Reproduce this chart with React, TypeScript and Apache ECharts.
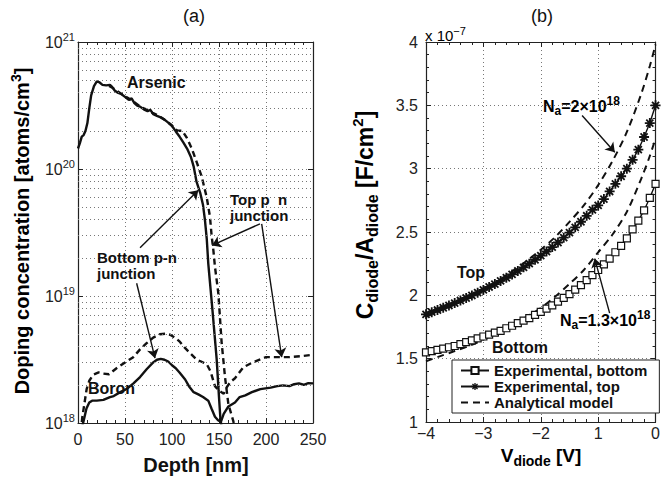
import React, { useEffect, useRef } from 'react';
import * as echarts from 'echarts';

const FONT = '"Liberation Sans", Arial, Helvetica, sans-serif';
const INK = '#111';

// ---------- Panel (a): depth [nm] vs doping concentration [atoms/cm^3] ----------
const arsenicSolid: [number, number][] = [
  [0, 1.45e20], [2, 1.6e20], [4, 1.8e20], [6, 1.85e20], [8, 2.0e20], [10, 2.3e20], [12, 3.0e20],
  [14, 3.8e20], [17, 4.5e20], [20, 4.9e20], [23, 4.8e20], [26, 4.6e20], [30, 4.55e20], [34, 4.6e20],
  [36, 4.45e20], [39, 4.15e20], [42, 4.0e20], [46, 3.9e20], [50, 3.7e20], [54, 3.5e20], [57, 3.6e20],
  [60, 3.3e20], [63, 3.15e20], [66, 3.1e20], [70, 2.95e20], [74, 2.85e20], [77, 2.92e20], [80, 2.7e20],
  [84, 2.62e20], [88, 2.55e20], [92, 2.45e20], [96, 2.32e20], [99, 2.22e20], [102, 2.08e20],
  [105, 1.93e20], [108, 1.8e20], [112, 1.62e20], [116, 1.45e20], [120, 1.25e20], [123, 1.05e20],
  [126, 8.0e19], [130, 6.5e19], [133, 5.2e19], [135, 4.0e19], [137, 2.8e19], [138.6, 1.8e19],
  [143, 7.8e18], [147.5, 3.2e18], [150, 1.6e18], [151.5, 1.08e18], [153, 0.9e18],
];
const arsenicDashed: [number, number][] = [
  [33, 4.5e20], [37, 4.35e20], [41, 4.15e20], [45, 3.95e20], [50, 3.75e20], [55, 3.55e20],
  [60, 3.35e20], [65, 3.15e20], [70, 3.0e20], [75, 2.9e20], [80, 2.75e20], [85, 2.65e20],
  [90, 2.5e20], [95, 2.35e20], [100, 2.2e20], [104, 2.05e20], [106, 2.0e20], [111, 2.0e20],
  [116, 1.75e20], [121, 1.45e20], [126, 1.15e20], [131.6, 8.7e19], [136.9, 6.0e19], [140.4, 4.2e19],
  [142.2, 2.95e19], [144, 2.3e19], [145.7, 1.7e19], [149.3, 1.05e19], [152.8, 4.3e18],
  [156.4, 2.3e18], [160, 1.4e18], [165, 1.05e18], [167, 0.9e18],
];
const boronSolid: [number, number][] = [
  [3, 0.85e18], [5.7, 1.02e18], [9, 1.3e18], [12, 1.45e18], [15, 1.5e18], [20, 1.5e18], [27, 1.52e18],
  [34, 1.6e18], [38, 1.63e18], [45, 1.75e18], [52, 1.86e18], [59, 2.05e18], [66, 2.3e18],
  [73, 2.65e18], [80, 3.0e18], [84, 3.15e18], [88, 3.2e18], [92, 3.15e18], [96, 3.05e18],
  [100, 2.85e18], [104, 2.7e18], [108, 2.5e18], [114, 2.2e18], [118, 1.95e18], [123, 1.75e18],
  [128, 1.68e18], [133, 1.6e18], [138.6, 1.5e18], [142, 1.3e18], [145.7, 1.12e18], [149, 1.05e18],
  [152, 1.02e18], [155, 1.18e18], [160, 1.35e18], [167, 1.45e18], [172, 1.6e18], [178, 1.65e18],
  [185, 1.75e18], [194, 1.85e18], [205, 1.9e18], [212, 1.95e18], [218, 1.98e18], [225, 1.95e18],
  [230, 2.02e18], [235, 2.05e18], [240, 2.0e18], [245, 2.06e18], [250, 2.05e18],
];
const boronDashed: [number, number][] = [
  [3, 0.85e18], [4.5, 1.1e18], [7, 1.45e18], [9.2, 1.85e18], [12, 2.15e18], [16.3, 2.4e18],
  [22, 2.5e18], [27, 2.45e18], [33, 2.42e18], [41, 2.7e18], [50, 3.0e18], [58.8, 3.3e18],
  [66, 3.8e18], [73, 4.25e18], [80, 4.7e18], [87, 5.0e18], [93, 5.05e18], [98, 4.95e18],
  [104, 4.65e18], [108.5, 4.35e18], [113.8, 3.9e18], [120, 3.5e18], [126.3, 3.15e18], [131, 3.05e18],
  [137, 2.9e18], [141, 2.55e18], [145.7, 1.95e18], [150, 1.8e18], [155, 1.7e18], [158, 1.9e18],
  [162, 2.1e18], [167, 2.25e18], [176, 2.75e18], [186, 3.0e18], [200, 3.3e18], [210, 3.3e18],
  [217, 3.3e18], [225, 3.3e18], [236, 3.35e18], [250, 3.45e18],
];
const minorMantissas = [2, 3, 4, 5, 6, 7, 8, 9];
const decades = [1e18, 1e19, 1e20];
const arrowsA: [number, number][][] = [
  [[66, 2.4e19], [128, 6.8e19]],
  [[62.4, 1.26e19], [81.9, 3.24e18]],
  [[193.6, 3.7e19], [142.5, 2.5e19]],
  [[195.4, 3.7e19], [216.7, 3.3e18]],
];

// ---------- Panel (b): V_diode [V] vs C/A [1e-7 F/cm^2] ----------
const voltageExp = [
  -4.0, -3.9, -3.8, -3.7, -3.6, -3.5, -3.4, -3.3, -3.2, -3.1, -3.0, -2.9, -2.8, -2.7, -2.6, -2.5,
  -2.4, -2.3, -2.2, -2.1, -2.0, -1.9, -1.8, -1.7, -1.6, -1.5, -1.4, -1.3, -1.2, -1.1, -1.0, -0.9,
  -0.8, -0.7, -0.6, -0.5, -0.4, -0.3, -0.2, -0.1, 0.0,
];
const bottomExp = [
  1.55, 1.56, 1.57, 1.58, 1.59, 1.60, 1.615, 1.63, 1.645, 1.66, 1.675, 1.69, 1.705, 1.72, 1.74, 1.76,
  1.78, 1.80, 1.82, 1.845, 1.87, 1.895, 1.92, 1.95, 1.98, 2.01, 2.045, 2.08, 2.12, 2.16, 2.20, 2.245,
  2.29, 2.34, 2.39, 2.45, 2.52, 2.59, 2.67, 2.77, 2.88,
];
const topExp = [
  1.85, 1.867, 1.884, 1.902, 1.92, 1.939, 1.959, 1.979, 1.999, 2.021, 2.043, 2.066, 2.089, 2.114,
  2.139, 2.165, 2.193, 2.221, 2.25, 2.281, 2.313, 2.346, 2.381, 2.417, 2.455, 2.495, 2.537, 2.581,
  2.628, 2.675, 2.71, 2.76, 2.82, 2.88, 2.94, 3.0, 3.07, 3.15, 3.25, 3.36, 3.5,
];
const voltageModel = [-4, -3.75, -3.5, -3.25, -3, -2.75, -2.5, -2.25, -2, -1.75, -1.5, -1.25, -1, -0.75, -0.5, -0.25, -0.1, 0];
const topModel = [1.83, 1.88, 1.93, 1.99, 2.05, 2.11, 2.19, 2.27, 2.36, 2.46, 2.58, 2.71, 2.87, 3.06, 3.29, 3.59, 3.81, 3.98];
const bottomModel = [1.48, 1.52, 1.56, 1.6, 1.65, 1.71, 1.77, 1.83, 1.9, 1.99, 2.09, 2.2, 2.34, 2.48, 2.66, 2.92, 3.1, 3.24];
const xTickLabelsB = ['\u22124', '\u22123', '\u22122', '1', '0'];
const arrowsB: [number, number][][] = [
  [[-1.28, 3.42], [-0.71, 3.13]],
  [[-0.8, 1.86], [-1.06, 2.29]],
];

function asteriskPath(): string {
  const L = 10, W = 1.8;
  let d = '';
  for (const deg of [0, 45, 90, 135]) {
    const a = (deg * Math.PI) / 180, c = Math.cos(a), s = Math.sin(a);
    const pts = [
      [L * c - W * s, L * s + W * c],
      [L * c + W * s, L * s - W * c],
      [-L * c + W * s, -L * s - W * c],
      [-L * c - W * s, -L * s + W * c],
    ];
    d += 'M' + pts.map((p) => p[0].toFixed(2) + ' ' + p[1].toFixed(2)).join(' L') + ' Z ';
  }
  return 'path://' + d;
}

const dotted = { type: [1, 3] as any, color: '#777', width: 1 };

function xAxisBase(grid: number, min: number, max: number, interval: number, pos: 'top' | 'bottom', labels: any) {
  return {
    type: 'value', gridIndex: grid, min, max, interval, position: pos,
    axisLine: { show: true, onZero: false, lineStyle: { color: '#222', width: 1.2 } },
    axisTick: { show: true, inside: true, length: 5, lineStyle: { color: '#222' } },
    minorTick: { show: true, splitNumber: 5, length: 3, lineStyle: { color: '#222' } },
    axisLabel: labels,
    splitLine: { show: pos === 'bottom', lineStyle: dotted },
  };
}

function buildOption(): any {
  const star = asteriskPath();
  const minorLevels = decades.flatMap((d) => minorMantissas.map((m) => m * d));
  const tickFont = { fontSize: 16, fontFamily: FONT, color: '#222' };
  const bold = (size: number) => ({ fontSize: size, fontWeight: 'bold', fontFamily: FONT, fill: INK });

  const txt = (x: number, y: number, text: string, extra: any = {}) => ({
    type: 'text', x, y, silent: true, z: 100,
    style: {
      text, ...bold(16), align: 'left', verticalAlign: 'middle', textAlign: 'left', textVerticalAlign: 'middle', ...extra,
    },
  });
  const richBold = {
    m: { fontSize: 16, fontWeight: 'bold', fontFamily: FONT, color: INK, lineHeight: 22 },
    s: { fontSize: 12, fontWeight: 'bold', fontFamily: FONT, color: INK, verticalAlign: 'bottom', lineHeight: 12 },
    p: { fontSize: 12, fontWeight: 'bold', fontFamily: FONT, color: INK, verticalAlign: 'top', lineHeight: 12 },
  };

  const lineA = (data: [number, number][], dashed: boolean, extra: any = {}) => ({
    type: 'line', xAxisIndex: 0, yAxisIndex: 0, data, symbol: 'none', showSymbol: false, silent: true, z: 3,
    lineStyle: { color: INK, width: 2.4, type: dashed ? [6, 4] : 'solid' },
    ...extra,
  });

  const modelSeries = (vals: number[], extra: any = {}) => ({
    name: 'Analytical model', type: 'line', xAxisIndex: 2, yAxisIndex: 2, z: 3,
    data: voltageModel.map((v, i) => [v, vals[i]]), symbol: 'none', showSymbol: false, smooth: 0.3,
    legendIcon: 'none',
    lineStyle: { color: INK, width: 2, type: [7, 5] }, itemStyle: { color: 'rgba(0,0,0,0)' },
    ...extra,
  });

  return {
    animation: false,
    backgroundColor: '#fff',
    grid: [
      { left: 78, top: 42, width: 235, height: 381 },
      { left: 426, top: 42, width: 234, height: 380 },
    ],
    xAxis: [
      xAxisBase(0, 0, 250, 50, 'bottom', { ...tickFont, margin: 8 }),
      xAxisBase(0, 0, 250, 50, 'top', { show: false }),
      xAxisBase(1, -4, 0, 1, 'bottom', { ...tickFont, margin: 3, formatter: (v: number) => xTickLabelsB[Math.round(v) + 4] }),
      xAxisBase(1, -4, 0, 1, 'top', { show: false }),
    ],
    yAxis: [
      {
        type: 'log', logBase: 10, gridIndex: 0, min: 1e18, max: 1e21, position: 'left',
        axisLine: { show: true, onZero: false, lineStyle: { color: '#222', width: 1.2 } },
        axisTick: { show: true, inside: true, length: 5, lineStyle: { color: '#222' } },
        axisLabel: {
          margin: 3,
          formatter: (v: number) => `{b|10}{s|${Math.round(Math.log10(v))}}`,
          rich: {
            b: { fontSize: 16, fontFamily: FONT, color: '#222', lineHeight: 22 },
            s: { fontSize: 11, fontFamily: FONT, color: '#222', verticalAlign: 'top', lineHeight: 11 },
          },
        },
        splitLine: { show: true, lineStyle: dotted },
      },
      {
        type: 'log', logBase: 10, gridIndex: 0, min: 1e18, max: 1e21, position: 'right',
        axisLine: { show: true, onZero: false, lineStyle: { color: '#222', width: 1.2 } },
        axisTick: { show: true, inside: true, length: 5, lineStyle: { color: '#222' } },
        axisLabel: { show: false }, splitLine: { show: false },
      },
      {
        type: 'value', gridIndex: 1, min: 1, max: 4, interval: 0.5, position: 'left',
        axisLine: { show: true, onZero: false, lineStyle: { color: '#222', width: 1.2 } },
        axisTick: { show: true, inside: true, length: 5, lineStyle: { color: '#222' } },
        minorTick: { show: true, splitNumber: 5, length: 3, lineStyle: { color: '#222' } },
        axisLabel: { ...tickFont, margin: 8 },
        splitLine: { show: true, lineStyle: dotted },
      },
      {
        type: 'value', gridIndex: 1, min: 1, max: 4, interval: 0.5, position: 'right',
        axisLine: { show: true, onZero: false, lineStyle: { color: '#222', width: 1.2 } },
        axisTick: { show: true, inside: true, length: 5, lineStyle: { color: '#222' } },
        minorTick: { show: true, splitNumber: 5, length: 3, lineStyle: { color: '#222' } },
        axisLabel: { show: false }, splitLine: { show: false },
      },
    ],
    legend: {
      data: ['Experimental, bottom', 'Experimental, top', 'Analytical model'],
      orient: 'vertical', left: 452, top: 360,
      backgroundColor: '#fff', borderColor: '#222', borderWidth: 1, borderRadius: 0,
      padding: [3, 12, 3, 8], itemGap: 1, itemWidth: 28, itemHeight: 9,
      textStyle: { fontSize: 15, fontWeight: 'bold', fontFamily: FONT, color: INK },
      selectedMode: false, z: 50,
    },
    series: [
      {
        type: 'line', xAxisIndex: 0, yAxisIndex: 0, data: [], silent: true, z: 1,
        markLine: {
          silent: true, symbol: 'none', label: { show: false },
          lineStyle: { ...dotted }, emphasis: { disabled: true },
          data: minorLevels.map((y) => ({ yAxis: y })),
        },
      },
      lineA(arsenicSolid, false, {
        markLine: {
          silent: true, symbol: ['none', 'arrow'], symbolSize: 9, label: { show: false },
          lineStyle: { color: INK, width: 1.4, type: 'solid' }, emphasis: { disabled: true },
          data: arrowsA.map(([a, b]) => [{ coord: a }, { coord: b }]),
        },
      }),
      lineA(arsenicDashed, true),
      lineA(boronSolid, false),
      lineA(boronDashed, true),
      modelSeries(topModel),
      modelSeries(bottomModel, {
        markLine: {
          silent: true, symbol: ['none', 'arrow'], symbolSize: 9, label: { show: false },
          lineStyle: { color: INK, width: 1.4, type: 'solid' }, emphasis: { disabled: true },
          data: arrowsB.map(([a, b]) => [{ coord: a }, { coord: b }]),
        },
      }),
      {
        name: 'Experimental, bottom', type: 'line', xAxisIndex: 2, yAxisIndex: 2, z: 4,
        data: voltageExp.map((v, i) => [v, bottomExp[i]]),
        symbol: 'rect', symbolSize: 7, showSymbol: true, showAllSymbol: true,
        lineStyle: { color: INK, width: 1.4 },
        itemStyle: { color: '#fff', borderColor: INK, borderWidth: 1.2 },
      },
      {
        name: 'Experimental, top', type: 'line', xAxisIndex: 2, yAxisIndex: 2, z: 4,
        data: voltageExp.map((v, i) => [v, topExp[i]]),
        symbol: star, symbolSize: 10, showSymbol: true, showAllSymbol: true,
        lineStyle: { color: INK, width: 1.4 },
        itemStyle: { color: INK },
      },
    ],
    graphic: [
      txt(194, 16, '(a)', { fontWeight: 'normal', fontSize: 18, align: 'center', textAlign: 'center' }),
      txt(542, 16, '(b)', { fontWeight: 'normal', fontSize: 18, align: 'center', textAlign: 'center' }),
      {
        type: 'text', x: 22, y: 231, rotation: Math.PI / 2, silent: true,
        style: {
          text: '{m|Doping concentration [atoms/cm}{p|3}{m|]}',
          align: 'center', verticalAlign: 'middle', textAlign: 'center', textVerticalAlign: 'middle',
          rich: {
            m: { fontSize: 20, fontWeight: 'bold', fontFamily: FONT, color: INK, lineHeight: 26 },
            p: { fontSize: 14, fontWeight: 'bold', fontFamily: FONT, color: INK, verticalAlign: 'top', lineHeight: 14 },
          },
        },
      },
      txt(196, 465, 'Depth [nm]', { fontSize: 20, lineHeight: 24, align: 'center', textAlign: 'center' }),
      {
        type: 'text', x: 365, y: 215, rotation: Math.PI / 2, silent: true,
        style: {
          text: '{m|C}{s|diode}{m|/A}{s|diode}{m| [F/cm}{p|2}{m|]}',
          align: 'center', verticalAlign: 'middle', textAlign: 'center', textVerticalAlign: 'middle',
          rich: {
            m: { fontSize: 23, fontWeight: 'bold', fontFamily: FONT, color: INK, lineHeight: 30 },
            s: { fontSize: 16, fontWeight: 'bold', fontFamily: FONT, color: INK, verticalAlign: 'bottom', lineHeight: 16 },
            p: { fontSize: 15, fontWeight: 'bold', fontFamily: FONT, color: INK, verticalAlign: 'top', lineHeight: 15 },
          },
        },
      },
      {
        type: 'text', x: 541, y: 455, silent: true,
        style: {
          text: '{m|V}{s|diode}{m| [V]}',
          align: 'center', verticalAlign: 'middle', textAlign: 'center', textVerticalAlign: 'middle',
          rich: {
            m: { fontSize: 19, fontWeight: 'bold', fontFamily: FONT, color: INK, lineHeight: 26 },
            s: { fontSize: 14, fontWeight: 'bold', fontFamily: FONT, color: INK, verticalAlign: 'bottom', lineHeight: 14 },
          },
        },
      },
      {
        type: 'text', x: 425, y: 35, silent: true,
        style: {
          text: '{m|x 10}{p|\u22127}',
          align: 'left', verticalAlign: 'middle', textAlign: 'left', textVerticalAlign: 'middle',
          rich: {
            m: { fontSize: 15, fontFamily: FONT, color: INK, lineHeight: 20 },
            p: { fontSize: 11, fontFamily: FONT, color: INK, verticalAlign: 'top', lineHeight: 11 },
          },
        },
      },
      txt(127, 82, 'Arsenic'),
      txt(230, 207.5, 'Top p  n\njunction', { fontSize: 15, lineHeight: 16 }),
      txt(97, 265.5, 'Bottom p-n\njunction', { fontSize: 15, lineHeight: 16 }),
      txt(88, 388, 'Boron'),
      txt(457, 272, 'Top'),
      txt(492, 347, 'Bottom'),
      {
        type: 'text', x: 543, y: 106, silent: true, z: 100,
        style: {
          text: '{m|N}{s|a}{m|=2\u00d710}{p|18}', rich: richBold,
          align: 'left', verticalAlign: 'middle', textAlign: 'left', textVerticalAlign: 'middle',
        },
      },
      {
        type: 'text', x: 560, y: 320, silent: true, z: 100,
        style: {
          text: '{m|N}{s|a}{m|=1.3\u00d710}{p|18}', rich: richBold,
          align: 'left', verticalAlign: 'middle', textAlign: 'left', textVerticalAlign: 'middle',
        },
      },
    ],
  };
}

export default function App() {
  const ref = useRef<HTMLDivElement>(null);
  useEffect(() => {
    document.body.style.margin = '0';
    const chart = echarts.init(ref.current as HTMLDivElement, undefined, { renderer: 'svg' });
    chart.setOption(buildOption());
    return () => chart.dispose();
  }, []);
  return <div ref={ref} style={{ width: 663, height: 480, background: '#fff' }} />;
}
